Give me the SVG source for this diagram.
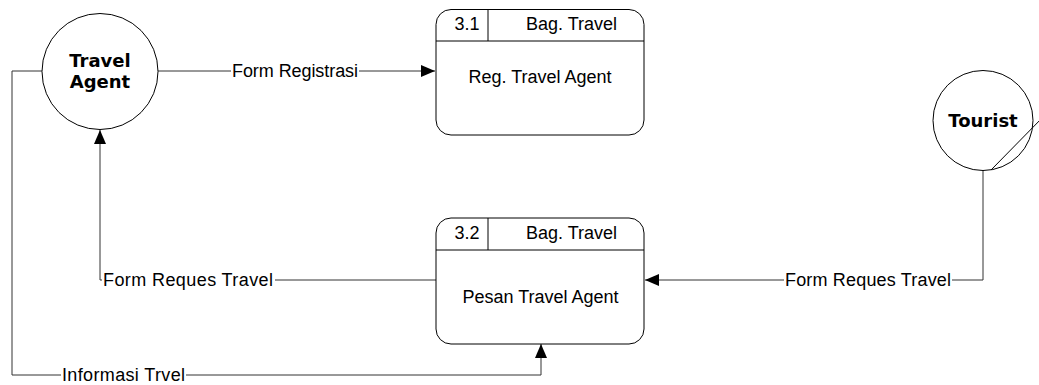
<svg xmlns="http://www.w3.org/2000/svg" width="1039" height="385" viewBox="0 0 1039 385">
<style>
.ent{fill:#fff;stroke:#000;stroke-width:1}
.ename{font-family:"DejaVu Sans",Verdana,sans-serif;font-weight:bold;font-size:18px;text-anchor:middle;fill:#000}
.box{fill:#fff;stroke:#000;stroke-width:1}
.div{stroke:#000;stroke-width:1;fill:none}
.t{font-family:"Liberation Sans",Arial,sans-serif;font-size:18px;fill:#000}
.mid{text-anchor:middle}
.con{fill:none;stroke:#333;stroke-width:1}
.bg{fill:#fff}
</style>
<defs>
<marker id="arr" viewBox="0 0 14 12" refX="14" refY="6" markerWidth="14" markerHeight="12" markerUnits="userSpaceOnUse" orient="auto">
<path d="M0,0 L14,6 L0,12 Z" fill="#000"/>
</marker>
</defs>
<g id="connectors">
<path class="con" d="M158,71 H435" marker-end="url(#arr)"/>
<path class="con" d="M42,71 H12 V375 H541 V344" marker-end="url(#arr)"/>
<path class="con" d="M436,280 H100 V130" marker-end="url(#arr)"/>
<path class="con" d="M983,170 V280 H645" marker-end="url(#arr)"/>
<rect class="bg" x="231" y="62" width="128" height="18"/>
<text class="t" x="232" y="77" textLength="126" lengthAdjust="spacing">Form Registrasi</text>
<rect class="bg" x="61" y="366" width="125" height="18"/>
<text class="t" x="62" y="381" textLength="123" lengthAdjust="spacing">Informasi Trvel</text>
<rect class="bg" x="102" y="271" width="173" height="18"/>
<text class="t" x="103" y="286" textLength="170" lengthAdjust="spacing">Form Reques Travel</text>
<rect class="bg" x="784" y="271" width="168" height="18"/>
<text class="t" x="785" y="286" textLength="166" lengthAdjust="spacing">Form Reques Travel</text>
</g>
<g id="travel-agent">
<circle class="ent" cx="100" cy="71.5" r="58"/>
<text class="ename" x="100" y="67">Travel</text>
<text class="ename" x="100" y="88">Agent</text>
</g>
<g id="tourist">
<circle class="ent" cx="983" cy="120.5" r="50"/>
<text class="ename" x="983" y="127">Tourist</text>
<path class="div" d="M991,170 L1046,114"/>
</g>
<g id="p31">
<rect class="box" x="436" y="9.5" width="208" height="125.5" rx="15" ry="15"/>
<path class="div" d="M436,41 H644 M488,9.5 V41"/>
<text class="t mid" x="467" y="30">3.1</text>
<text class="t mid" x="571.5" y="30">Bag. Travel</text>
<text class="t mid" x="540" y="83">Reg. Travel Agent</text>
</g>
<g id="p32">
<rect class="box" x="436" y="218" width="208" height="126" rx="15" ry="15"/>
<path class="div" d="M436,250 H644 M488,218 V250"/>
<text class="t mid" x="467" y="239">3.2</text>
<text class="t mid" x="571.5" y="239">Bag. Travel</text>
<text class="t mid" x="540.5" y="303">Pesan Travel Agent</text>
</g>
</svg>
